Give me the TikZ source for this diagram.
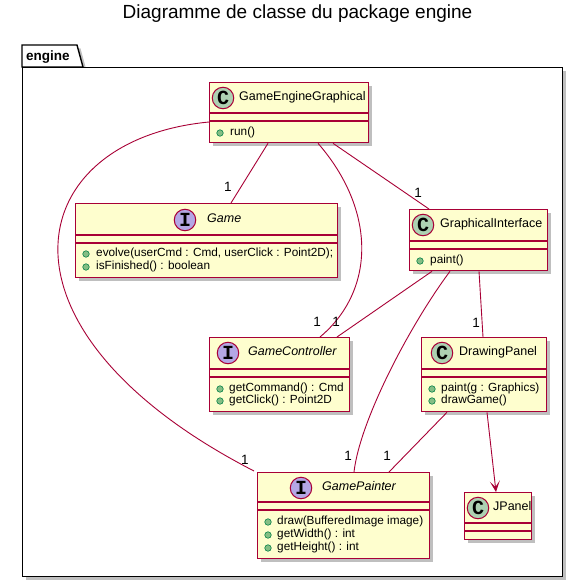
\documentclass[tikz,border=0pt]{standalone}
\usepackage{fontspec}
\setmainfont{Liberation Sans}
\newfontfamily\letterfont{Liberation Mono}
\usetikzlibrary{arrows.meta,calc,shadows}
\definecolor{umlred}{HTML}{A80036}
\definecolor{umlfill}{HTML}{FEFECE}
\definecolor{cfill}{HTML}{ADD1B2}
\definecolor{ifill}{HTML}{B4A7E5}
\definecolor{dotfill}{HTML}{84BE84}
\definecolor{dotline}{HTML}{038048}
\newcommand\umlclass[6]{%
  \node[umlbox, minimum width=#4pt, minimum height=#5pt] (#1) at (#2,#3) {};
  \draw[umlsep] ([yshift=-#6pt]#1.north west) -- ([yshift=-#6pt]#1.north east);
  \draw[umlsep] ([yshift=-#6pt-8pt]#1.north west) -- ([yshift=-#6pt-8pt]#1.north east);
}
\begin{document}
\begin{tikzpicture}[x=1pt,y=-1pt,
  umlbox/.style={draw=umlred, fill=umlfill, line width=1.3pt, inner sep=0pt, anchor=north west,
     drop shadow={shadow xshift=3.5pt, shadow yshift=-3.5pt, opacity=0.25, fill=black}},
  umlsep/.style={draw=umlred, line width=1.3pt},
  pkgbox/.style={draw=black, fill=white, line width=1.4pt, inner sep=0pt, anchor=north west,
     drop shadow={shadow xshift=3.5pt, shadow yshift=-3.5pt, opacity=0.25, fill=black}},
  cletter/.style={circle, draw=umlred, fill=cfill, line width=1pt, minimum size=21.5pt, inner sep=0pt,
     font=\letterfont\bfseries\fontsize{20}{20}\selectfont},
  iletter/.style={cletter, fill=ifill},
  cname/.style={anchor=mid west, inner sep=0pt, font=\fontsize{12.5}{14}\selectfont},
  iname/.style={cname, font=\fontsize{12.5}{14}\selectfont\itshape},
  mdot/.style={circle, draw=dotline, fill=dotfill, line width=0.6pt, minimum size=6.5pt, inner sep=0pt},
  meth/.style={anchor=mid west, inner sep=0pt, font=\fontsize{11.8}{13}\selectfont},
  umlline/.style={draw=umlred, line width=0.9pt},
  mult/.style={inner sep=0pt, font=\fontsize{13.5}{14}\selectfont},
]
\useasboundingbox (0,0) rectangle (584,586);

% title
\node[anchor=base, inner sep=0pt, font=\fontsize{19}{22}\selectfont] (title) at (297.5,19) {Diagramme de classe du package engine};

% package
\fill[black, opacity=0.25] (25.5,48.5) -- (80.5,48.5) -- (86.5,70.5) -- cycle;
\draw[line width=1.4pt, fill=white] (22,67) -- (22,45) -- (77,45) -- (83,67) -- cycle;
\node[pkgbox, minimum width=540pt, minimum height=509pt] (pkg) at (22,67) {};
\node[anchor=base west, inner sep=0pt, font=\fontsize{13.5}{15}\selectfont\bfseries] (pkgname) at (26,61) {engine};

% classes
\umlclass{geg}{209}{82}{159}{60}{31}
\node[cletter] (gegc) at (223,98) {C};
\node[cname] (gegn) at (239,98) {GameEngineGraphical};
\node[mdot] (gegd1) at (220,133) {};
\node[meth] (gegm1) at (230,133) {run()};

\umlclass{game}{75}{203}{262}{74}{32}
\node[iletter] (gamec) at (185,220) {I};
\node[iname] (gamen) at (207,220) {Game};
\node[mdot] (gamed1) at (86,254) {};
\node[meth] (gamem1) at (96,254) {evolve(userCmd : Cmd, userClick : Point2D);};
\node[mdot] (gamed2) at (86,267) {};
\node[meth] (gamem2) at (96,267) {isFinished() : boolean};

\umlclass{gi}{409}{209}{138}{61}{32}
\node[cletter] (gic) at (423,225) {C};
\node[cname] (gin) at (440,225) {GraphicalInterface};
\node[mdot] (gid1) at (420,261) {};
\node[meth] (gim1) at (430,261) {paint()};

\umlclass{gc}{209}{337}{140}{74}{32}
\node[iletter] (gcc) at (228,353) {I};
\node[iname] (gcn) at (248,353) {GameController};
\node[mdot] (gcd1) at (220,389) {};
\node[meth] (gcm1) at (229,389) {getCommand() : Cmd};
\node[mdot] (gcd2) at (220,401) {};
\node[meth] (gcm2) at (229,401) {getClick() : Point2D};

\umlclass{dp}{421}{337}{125}{74}{32}
\node[cletter] (dpc) at (442,353) {C};
\node[cname] (dpn) at (459,353) {DrawingPanel};
\node[mdot] (dpd1) at (432,389) {};
\node[meth] (dpm1) at (441,389) {paint(g : Graphics)};
\node[mdot] (dpd2) at (432,401) {};
\node[meth] (dpm2) at (441,401) {drawGame()};

\umlclass{gp}{257}{472}{172}{86}{30}
\node[iletter] (gpc) at (301,488) {I};
\node[iname] (gpn) at (322,488) {GamePainter};
\node[mdot] (gpd1) at (268,522) {};
\node[meth] (gpm1) at (277,522) {draw(BufferedImage image)};
\node[mdot] (gpd2) at (268,535) {};
\node[meth] (gpm2) at (277,535) {getWidth() : int};
\node[mdot] (gpd3) at (268,548) {};
\node[meth] (gpm3) at (277,548) {getHeight() : int};

\umlclass{jp}{464}{492}{67}{47}{31}
\node[cletter] (jpc) at (478,508) {C};
\node[cname] (jpn) at (493,508) {JPanel};

% connectors
\draw[umlline] ($(geg.south west)+(59,0)$) -- ($(game.north west)+(156,0)$);
\draw[umlline] ($(geg.south west)+(109,0)$) .. controls (376,210) and (376,290) .. ($(gc.north west)+(111,0)$);
\draw[umlline] ($(geg.south west)+(124,0)$) -- ($(gi.north west)+(20,0)$);
\draw[umlline] ($(geg.north west)+(0,40)$) .. controls (20,140) and (-20,330) .. ($(gp.north west)+(-3,-1)$);
\draw[umlline] ($(gi.south west)+(23,0)$) -- ($(gc.north west)+(128,0)$);
\draw[umlline] ($(gi.south west)+(41,0)$) .. controls (410,325) and (360,420) .. ($(gp.north west)+(97,0)$);
\draw[umlline] ($(gi.south west)+(70,0)$) -- ($(dp.north west)+(62,0)$);
\draw[umlline] ($(dp.south west)+(26,0)$) -- ($(gp.north west)+(132,0)$);
\draw[umlline, -{Stealth[length=11pt, width=10pt, inset=6pt]}] ($(dp.south west)+(66,0)$) -- ($(jp.north west)+(32,0)$);

% multiplicities
\node[mult] (l1) at (228,187) {1};
\node[mult] (l2) at (418,193) {1};
\node[mult] (l3) at (317,322) {1};
\node[mult] (l4) at (336,322) {1};
\node[mult] (l5) at (476,323) {1};
\node[mult] (l6) at (245,460) {1};
\node[mult] (l7) at (348,456) {1};
\node[mult] (l8) at (387,456) {1};
\end{tikzpicture}
\end{document}
